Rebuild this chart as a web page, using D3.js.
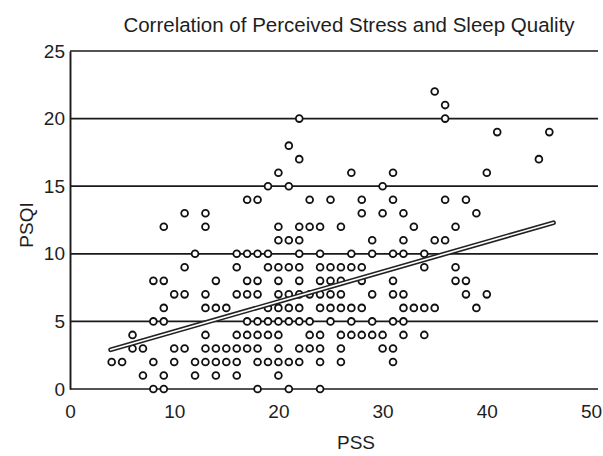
<!DOCTYPE html>
<html>
<head>
<meta charset="utf-8">
<script src="https://cdn.jsdelivr.net/npm/d3@7"></script>
<style>
  body { margin: 0; background: #fff; }
  text { font-family: "Liberation Sans", Arial, sans-serif; fill: #1e1e1e; }
</style>
</head>
<body>
<div class="canvas"></div>
<script>
// PSQI score of each row of dots (0 at the bottom)
const psqiRows = [0, 1, 2, 3, 4, 5, 6, 7, 8, 9, 10, 11, 12, 13, 14, 15, 16, 17, 18, 19, 20, 21, 22];

// PSS scores of the people sitting in each of those rows
const pssByRow = [
   [8, 9, 18, 21, 24],
   [7, 9, 12, 14, 16, 20],
   [4, 5, 8, 10, 12, 13, 14, 15, 16, 18, 19, 20, 21, 22, 24, 26, 31],
   [6, 7, 10, 11, 13, 14, 15, 16, 17, 18, 20, 22, 23, 24, 26, 30, 31],
   [6, 13, 16, 17, 18, 19, 20, 23, 24, 26, 27, 28, 29, 30, 32, 34],
   [8, 9, 17, 18, 19, 20, 21, 22, 23, 25, 27, 29, 31, 32],
   [9, 13, 14, 15, 19, 20, 21, 22, 24, 25, 26, 27, 28, 32, 33, 34, 35, 39],
   [10, 11, 13, 16, 17, 18, 20, 21, 22, 23, 24, 25, 26, 29, 31, 32, 38, 40],
   [8, 9, 14, 17, 18, 20, 22, 24, 25, 26, 28, 31, 37, 38],
   [11, 16, 19, 20, 21, 22, 24, 25, 26, 27, 28, 34, 37],
   [12, 16, 17, 18, 19, 22, 24, 27, 29, 31, 32, 34],
   [20, 21, 22, 29, 32, 35, 36],
   [9, 13, 20, 22, 23, 24, 26, 33, 37],
   [11, 13, 28, 30, 32, 39],
   [17, 18, 23, 25, 28, 31, 36, 38],
   [19, 21, 30],
   [20, 27, 31, 40],
   [22, 45],
   [21],
   [41, 46],
   [22, 36],
   [36],
   [35]
];

// ends of the fitted line
const fitPss = [3.9, 46.4];
const fitPsqi = [2.9, 12.3];

// axis ticks
const xTicks = [0, 10, 20, 30, 40, 50];
const yTicks = [0, 5, 10, 15, 20, 25];

const margin = { top: 51, right: 12, bottom: 67, left: 70 };
const graphWidth = 603 - (margin.left + margin.right);
const graphHeight = 456 - (margin.top + margin.bottom);

const svg = d3.select('.canvas')
   .append('svg')
      .attr('width', 603)
      .attr('height', 456);

const graph = svg.append('g')
   .attr('transform', `translate(${margin.left}, ${margin.top})`);

const x = d3.scaleLinear().domain([0, 50]).range([0, graphWidth]);
const y = d3.scaleLinear().domain([0, 25]).range([graphHeight, 0]);

// flatten the rows into single points
const points = [];
psqiRows.forEach((q, i) => {
   pssByRow[i].forEach(p => points.push({ pss: p, psqi: q }));
});

// horizontal rules (the one at 0 is the x axis)
graph.append('g')
   .selectAll('line')
   .data(yTicks)
   .enter()
   .append('line')
      .attr('x1', 0)
      .attr('x2', graphWidth + 7)
      .attr('y1', d => y(d))
      .attr('y2', d => y(d))
      .attr('stroke', '#1a1a1a')
      .attr('stroke-width', 1.7);

// y axis
const yAxisGroup = graph.append('g')
   .call(d3.axisLeft(y).tickValues(yTicks).tickSize(0).tickPadding(5));
yAxisGroup.select('.domain').attr('stroke', '#1a1a1a').attr('stroke-width', 1.9);
yAxisGroup.selectAll('text').style('font-size', '19px');

// x axis labels only, the line is drawn above
const xAxisGroup = graph.append('g')
   .attr('transform', `translate(0, ${graphHeight})`)
   .call(d3.axisBottom(x).tickValues(xTicks).tickSize(0).tickPadding(16));
xAxisGroup.select('.domain').remove();
xAxisGroup.selectAll('text').style('font-size', '19px');

// the dots
graph.selectAll('circle')
   .data(points)
   .enter()
   .append('circle')
      .attr('cx', d => x(d.pss))
      .attr('cy', d => y(d.psqi))
      .attr('r', 3.4)
      .attr('fill', '#fff')
      .attr('stroke', '#111')
      .attr('stroke-width', 1.8);

// fitted line, drawn hollow like in the print
const fit = d3.line()
   .x(d => x(d[0]))
   .y(d => y(d[1]));
const fitData = [[fitPss[0], fitPsqi[0]], [fitPss[1], fitPsqi[1]]];

graph.append('path')
   .datum(fitData)
   .attr('d', fit)
   .attr('fill', 'none')
   .attr('stroke', '#222')
   .attr('stroke-width', 4.8)
   .attr('stroke-linecap', 'round');

graph.append('path')
   .datum(fitData)
   .attr('d', fit)
   .attr('fill', 'none')
   .attr('stroke', '#fff')
   .attr('stroke-width', 1.6)
   .attr('stroke-linecap', 'round');

// titles
svg.append('text')
   .attr('x', 349)
   .attr('y', 32)
   .attr('text-anchor', 'middle')
   .style('font-size', '20.5px')
   .text('Correlation of Perceived Stress and Sleep Quality');

svg.append('text')
   .attr('x', 356)
   .attr('y', 449)
   .attr('text-anchor', 'middle')
   .style('font-size', '19px')
   .text('PSS');

svg.append('text')
   .attr('transform', 'translate(33, 225) rotate(-90)')
   .attr('text-anchor', 'middle')
   .style('font-size', '19px')
   .text('PSQI');
</script>
</body>
</html>
